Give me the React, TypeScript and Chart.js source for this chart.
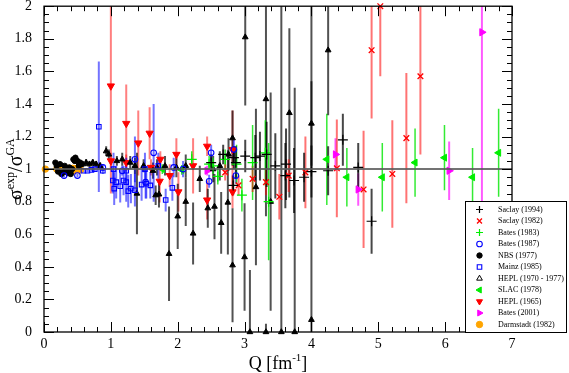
import React, { useEffect, useRef } from "react";
import { Chart, registerables } from "chart.js";
import { drawPoint } from "chart.js/helpers";

Chart.register(...registerables);

type Pt = [number, number, number]; // [Q, sigma ratio, error]

const saclay1994: Pt[] = [
  [2.50, 1.04, 0.05], [2.68, 1.09, 0.06], [2.83, 0.90, 0.06], [2.84, 1.07, 0.07], [2.87, 1.04, 0.10],
  [3.01, 1.08, 0.10], [3.16, 1.07, 0.14], [3.23, 1.08, 0.15], [3.33, 1.09, 0.20], [3.46, 1.02, 0.20],
  [3.61, 0.96, 0.20], [3.62, 1.03, 0.22], [3.74, 0.93, 0.20], [3.89, 0.95, 0.15], [4.00, 0.985, 0.16],
  [4.25, 0.99, 0.15], [4.47, 1.18, 0.16], [4.70, 1.01, 0.15], [4.90, 0.68, 0.20],
];
const saclay1982: Pt[] = [
  [2.71, 0.98, 0.05], [2.91, 0.90, 0.06], [3.12, 0.94, 0.08], [3.32, 0.92, 0.08], [3.52, 0.83, 0.14],
  [3.66, 0.96, 0.10], [3.91, 0.98, 0.22], [4.38, 1.005, 0.30], [4.78, 0.875, 0.36], [4.90, 1.73, 0.42],
  [5.03, 2.0, 0.43], [5.21, 0.97, 0.33], [5.42, 1.19, 0.40], [5.63, 1.57, 0.48],
];
const bates1983: Pt[] = [
  [2.21, 1.06, 0.05], [2.47, 1.03, 0.05], [2.53, 1.02, 0.05], [2.60, 0.955, 0.05], [2.71, 1.06, 0.06],
  [2.88, 1.03, 0.12], [2.96, 0.84, 0.10], [3.12, 1.04, 0.23], [3.31, 1.10, 0.20], [3.36, 0.80, 0.36],
];
const bates1987: Pt[] = [
  [0.30, 0.96, 0.01], [0.50, 0.96, 0.01], [0.88, 1.01, 0.02], [1.17, 0.99, 0.03], [1.36, 1.06, 0.14],
  [1.52, 0.92, 0.10], [1.64, 1.10, 0.30], [1.94, 1.01, 0.06], [2.08, 1.00, 0.05], [2.47, 0.925, 0.04],
  [2.50, 1.10, 0.05], [2.84, 1.12, 0.06], [2.87, 0.96, 0.05],
];
const nbs1977: Pt[] = [
  [0.17, 1.04, 0.01], [0.19, 1.02, 0.01], [0.21, 0.985, 0.01], [0.24, 1.03, 0.01], [0.26, 0.97, 0.01],
  [0.28, 0.98, 0.01], [0.31, 1.02, 0.01], [0.33, 0.99, 0.01], [0.36, 0.975, 0.01], [0.38, 1.01, 0.01],
  [0.40, 0.97, 0.01], [0.42, 1.00, 0.01], [0.44, 1.06, 0.015], [0.46, 1.05, 0.015], [0.47, 1.07, 0.015],
  [0.50, 1.05, 0.015], [0.52, 1.02, 0.015], [0.54, 1.04, 0.015], [0.56, 1.03, 0.015],
];
const mainz1985: Pt[] = [
  [0.59, 0.99, 0.01], [0.65, 0.99, 0.01], [0.71, 0.995, 0.01], [0.76, 1.00, 0.01], [0.82, 1.26, 0.40],
  [0.88, 0.99, 0.02], [1.03, 0.93, 0.08], [1.04, 1.00, 0.10], [1.05, 0.88, 0.10], [1.08, 0.92, 0.10],
  [1.14, 0.895, 0.10], [1.19, 0.93, 0.09], [1.23, 0.92, 0.12], [1.23, 0.99, 0.08], [1.26, 0.865, 0.10],
  [1.30, 0.88, 0.09], [1.36, 0.87, 0.10], [1.46, 0.905, 0.10], [1.51, 1.00, 0.10], [1.53, 0.91, 0.09],
  [1.59, 0.90, 0.08], [1.71, 1.02, 0.08], [1.82, 0.81, 0.07], [1.92, 0.885, 0.08],
];
const hepl7077: Pt[] = [
  [0.58, 1.03, 0.02], [0.63, 1.04, 0.02], [0.68, 1.03, 0.02], [0.73, 1.04, 0.02], [0.78, 1.03, 0.02],
  [0.84, 1.02, 0.02], [0.93, 1.11, 0.03], [0.97, 1.09, 0.03], [1.09, 1.05, 0.03], [1.17, 1.06, 0.04],
  [1.29, 1.04, 0.04], [1.36, 1.02, 0.05], [1.49, 1.02, 0.04], [1.63, 0.99, 0.05], [1.69, 1.01, 0.05],
  [1.81, 1.02, 0.06], [1.98, 1.01, 0.06], [2.12, 1.02, 0.07], [2.33, 0.94, 0.08], [2.53, 1.00, 0.08],
  [2.63, 1.02, 0.09], [2.76, 1.09, 0.10], [2.82, 1.19, 0.17],
  [1.39, 0.85, 0.25], [1.67, 0.84, 0.06], [1.72, 0.845, 0.08], [1.87, 0.48, 0.29], [2.00, 0.71, 0.20],
  [2.12, 0.80, 0.15], [2.23, 0.605, 0.19], [2.45, 0.76, 0.12], [2.55, 0.77, 0.20], [2.65, 0.67, 0.19],
  [2.75, 0.795, 0.32], [2.82, 0.41, 0.35], [3.00, 0.46, 0.33], [3.08, 0.0, 0.38], [3.17, 0.89, 0.48],
  [3.32, 0.0, 0.05], [3.39, 0.80, 0.67], [3.55, 0.0, 2.1], [3.75, 0.0, 1.5], [4.00, 0.075, 1.95],
  [3.01, 1.81, 0.42], [3.32, 1.43, 0.72], [3.67, 1.345, 0.52], [4.00, 1.28, 0.26], [4.25, 1.73, 0.40],
];
const slac1978: Pt[] = [
  [1.77, 1.00, 0.03], [2.06, 0.995, 0.03], [4.23, 1.06, 0.28], [4.53, 0.95, 0.18], [5.06, 0.95, 0.21],
  [5.55, 1.04, 0.21], [5.99, 1.07, 0.20], [6.41, 0.95, 0.18], [6.80, 1.10, 0.27],
];
const hepl1965: Pt[] = [
  [1.00, 1.51, 0.66], [1.00, 1.05, 0.05], [1.23, 1.28, 0.24], [1.23, 1.04, 0.05], [1.41, 1.16, 0.20],
  [1.58, 1.22, 0.16], [1.60, 1.01, 0.05], [1.73, 0.925, 0.13], [1.74, 1.06, 0.05], [1.88, 0.96, 0.07],
  [1.98, 1.09, 0.10], [2.01, 0.86, 0.12], [2.23, 1.02, 0.17], [2.44, 1.14, 0.06], [2.44, 0.81, 0.12],
  [2.82, 1.12, 0.24], [2.82, 0.86, 0.10],
];
const bates2001: Pt[] = [
  [2.44, 0.99, 0.03], [4.36, 1.09, 0.10], [4.70, 0.875, 0.10], [6.06, 0.99, 0.18], [6.55, 1.84, 1.04],
];
const darmstadt1982: Pt[] = [
  [0.02, 1.0, 0.01], [0.19, 1.0, 0.015], [0.215, 0.995, 0.015], [0.23, 1.005, 0.015], [0.255, 0.99, 0.015],
  [0.27, 1.0, 0.015], [0.29, 1.005, 0.015], [0.305, 0.995, 0.015], [0.33, 1.0, 0.015], [0.345, 0.99, 0.015],
  [0.37, 1.005, 0.015], [0.385, 1.0, 0.015], [0.41, 0.995, 0.015], [0.43, 1.005, 0.015], [0.445, 0.99, 0.015],
  [0.47, 1.0, 0.015], [0.49, 1.005, 0.015], [0.505, 0.995, 0.015], [0.53, 1.0, 0.015], [0.545, 0.995, 0.015],
];

const refLine = [[0, 1], [7, 1]];

const xTicks = [0, 1, 2, 3, 4, 5, 6, 7];
const xTickLabels = ["0", "1", "2", "3", "4", "5", "6", "7"];
const yTicks = [0, 0.2, 0.4, 0.6, 0.8, 1, 1.2, 1.4, 1.6, 1.8, 2];
const yTickLabels = ["0", "0.2", "0.4", "0.6", "0.8", "1", "1.2", "1.4", "1.6", "1.8", "2"];
const xMinorStep = 0.2;
const yMinorStep = 0.05;

const SERIF = "'Liberation Serif', 'Times New Roman', serif";

interface Style {
  label: string;
  data: Pt[];
  pointStyle: string;
  rotation: number;
  radius: number;
  color: string;
  fill: string;
  bw: number;
  errColor: string;
  errWidth: number;
  legendFill?: string;
}

const series: Style[] = [
  { label: "Saclay (1994)", data: saclay1994, pointStyle: "cross", rotation: 0, radius: 5, color: "#000", fill: "#000", bw: 1.2, errColor: "rgba(0,0,0,0.72)", errWidth: 2 },
  { label: "Saclay (1982)", data: saclay1982, pointStyle: "crossRot", rotation: 0, radius: 4, color: "#ff0000", fill: "#ff0000", bw: 1.3, errColor: "rgba(255,0,0,0.55)", errWidth: 2 },
  { label: "Bates (1983)", data: bates1983, pointStyle: "cross", rotation: 0, radius: 5, color: "#00ee00", fill: "#00ee00", bw: 1.2, errColor: "rgba(0,230,0,0.8)", errWidth: 1.5 },
  { label: "Bates (1987)", data: bates1987, pointStyle: "circle", rotation: 0, radius: 2.8, color: "#0000ff", fill: "rgba(0,0,0,0)", bw: 1.1, errColor: "rgba(0,0,255,0.55)", errWidth: 2 },
  { label: "NBS (1977)", data: nbs1977, pointStyle: "circle", rotation: 0, radius: 2.7, color: "#000", fill: "#000", bw: 1, errColor: "#000", errWidth: 1 },
  { label: "Mainz (1985)", data: mainz1985, pointStyle: "rect", rotation: 0, radius: 3.2, color: "#0000ff", fill: "rgba(0,0,0,0)", bw: 1.1, errColor: "rgba(0,0,255,0.55)", errWidth: 2 },
  { label: "HEPL (1970 - 1977)", data: hepl7077, pointStyle: "triangle", rotation: 0, radius: 3.3, color: "#000", fill: "#000", bw: 1, errColor: "rgba(0,0,0,0.68)", errWidth: 2, legendFill: "rgba(0,0,0,0)" },
  { label: "SLAC (1978)", data: slac1978, pointStyle: "triangle", rotation: 270, radius: 4, color: "#00ee00", fill: "#00ee00", bw: 1, errColor: "rgba(0,230,0,0.8)", errWidth: 1.5 },
  { label: "HEPL (1965)", data: hepl1965, pointStyle: "triangle", rotation: 180, radius: 4.2, color: "#ff0000", fill: "#ff0000", bw: 1, errColor: "rgba(255,0,0,0.5)", errWidth: 2 },
  { label: "Bates (2001)", data: bates2001, pointStyle: "triangle", rotation: 90, radius: 4.2, color: "#ff00ff", fill: "#ff00ff", bw: 1, errColor: "rgba(255,0,255,0.65)", errWidth: 2 },
  { label: "Darmstadt (1982)", data: darmstadt1982, pointStyle: "circle", rotation: 0, radius: 3.2, color: "#ffa500", fill: "#ffa500", bw: 1, errColor: "#ffa500", errWidth: 1 },
];

const errorBarPlugin = {
  id: "errorBars",
  beforeDatasetsDraw(chart: any) {
    const { ctx, chartArea: a, scales } = chart;
    const x = scales.x, y = scales.y;
    ctx.save();
    ctx.beginPath();
    ctx.rect(a.left, a.top, a.right - a.left, a.bottom - a.top);
    ctx.clip();
    const dss = chart.data.datasets;
    for (let d = dss.length - 1; d >= 0; d--) {
      const ds = dss[d];
      if (!ds.errs) continue;
      ctx.strokeStyle = ds.errColor;
      ctx.lineWidth = ds.errWidth;
      ds.errs.forEach((e: number, i: number) => {
        const p = ds.data[i];
        const px = x.getPixelForValue(p.x);
        ctx.beginPath();
        ctx.moveTo(px, y.getPixelForValue(p.y - e));
        ctx.lineTo(px, y.getPixelForValue(p.y + e));
        ctx.stroke();
      });
    }
    ctx.restore();
  },
};

function drawRich(ctx: CanvasRenderingContext2D, parts: { t: string; size: number; dy: number }[], cx: number, baseY: number) {
  let total = 0;
  parts.forEach((p) => {
    ctx.font = `${p.size}px ${SERIF}`;
    total += ctx.measureText(p.t).width;
  });
  let xx = cx - total / 2;
  parts.forEach((p) => {
    ctx.font = `${p.size}px ${SERIF}`;
    ctx.fillText(p.t, xx, baseY + p.dy);
    xx += ctx.measureText(p.t).width;
  });
}

const framePlugin = {
  id: "frame",
  afterDraw(chart: any) {
    const { ctx, chartArea: a, scales } = chart;
    const x = scales.x, y = scales.y;
    ctx.save();
    ctx.strokeStyle = "#000";
    ctx.lineWidth = 1;
    const line = (x1: number, y1: number, x2: number, y2: number) => {
      ctx.beginPath();
      ctx.moveTo(x1, y1);
      ctx.lineTo(x2, y2);
      ctx.stroke();
    };
    const nx = Math.round((x.max - x.min) / xMinorStep);
    for (let i = 0; i <= nx; i++) {
      const v = x.min + i * xMinorStep;
      const major = xTicks.some((t) => Math.abs(t - v) < 1e-6);
      const L = major ? 10 : 5;
      const px = Math.round(x.getPixelForValue(v)) + 0.5;
      line(px, a.bottom, px, a.bottom - L);
      line(px, a.top, px, a.top + L);
    }
    const ny = Math.round((y.max - y.min) / yMinorStep);
    for (let i = 0; i <= ny; i++) {
      const v = y.min + i * yMinorStep;
      const major = yTicks.some((t) => Math.abs(t - v) < 1e-6);
      const L = major ? 10 : 5;
      const py = Math.round(y.getPixelForValue(v)) + 0.5;
      line(a.left, py, a.left + L, py);
      line(a.right, py, a.right - L, py);
    }
    ctx.lineWidth = 1.3;
    ctx.strokeRect(a.left, a.top, a.right - a.left, a.bottom - a.top);

    ctx.fillStyle = "#000";
    ctx.textBaseline = "alphabetic";
    ctx.textAlign = "left";
    drawRich(ctx, [
      { t: "Q [fm", size: 18, dy: 0 },
      { t: "-1", size: 11, dy: -8 },
      { t: "]", size: 18, dy: 0 },
    ], (a.left + a.right) / 2, 369);

    ctx.save();
    ctx.translate(22, (a.top + a.bottom) / 2);
    ctx.rotate(-Math.PI / 2);
    drawRich(ctx, [
      { t: "σ", size: 20, dy: 0 },
      { t: "exp", size: 12, dy: -8 },
      { t: "/σ", size: 20, dy: 0 },
      { t: "GA", size: 12, dy: -8 },
    ], 0, 0);
    ctx.restore();

    const bx = 465.5, by = 201.5, bw = 101, bh = 131;
    ctx.fillStyle = "#fff";
    ctx.fillRect(bx, by, bw, bh);
    ctx.strokeStyle = "#000";
    ctx.lineWidth = 1;
    ctx.strokeRect(bx, by, bw, bh);
    ctx.font = `8px ${SERIF}`;
    ctx.textBaseline = "middle";
    series.forEach((s, i) => {
      const yy = 209.5 + i * 11.5;
      ctx.fillStyle = s.legendFill ?? s.fill;
      ctx.strokeStyle = s.color;
      ctx.lineWidth = s.bw;
      drawPoint(ctx, { pointStyle: s.pointStyle as any, rotation: s.rotation, radius: Math.min(s.radius, 3.5), borderWidth: s.bw }, 479.5, yy);
      ctx.fillStyle = "#000";
      ctx.fillText(s.label, 498, yy);
    });
    ctx.restore();
  },
};

export default function App() {
  const ref = useRef<HTMLCanvasElement>(null);
  useEffect(() => {
    if (!ref.current) return;
    const datasets: any[] = [
      {
        type: "line",
        label: "ref",
        data: refLine.map(([qx, qy]) => ({ x: qx, y: qy })),
        borderColor: "rgba(90,90,90,0.85)",
        borderWidth: 2,
        pointRadius: 0,
        showLine: true,
        order: -1,
      },
      ...series.map((s) => ({
        type: "scatter",
        label: s.label,
        data: s.data.map(([qx, v]) => ({ x: qx, y: v })),
        errs: s.data.map((p) => p[2]),
        errColor: s.errColor,
        errWidth: s.errWidth,
        pointStyle: s.pointStyle,
        rotation: s.rotation,
        pointRadius: s.radius,
        pointBackgroundColor: s.fill,
        pointBorderColor: s.color,
        pointBorderWidth: s.bw,
        showLine: false,
        clip: false,
      })),
    ];
    const chart = new Chart(ref.current, {
      type: "scatter",
      data: { datasets },
      options: {
        responsive: false,
        animation: false,
        events: [],
        layout: { padding: { top: 5, right: 57, left: 0, bottom: 0 } },
        plugins: { legend: { display: false }, tooltip: { enabled: false } },
        scales: {
          x: {
            type: "linear",
            min: 0,
            max: 7,
            grid: { display: false },
            border: { display: false },
            ticks: {
              font: { family: SERIF, size: 14 },
              color: "#000",
              padding: -4,
              maxRotation: 0,
              autoSkip: false,
              callback: (_v: any, i: number) => xTickLabels[i],
            },
            afterBuildTicks: (s: any) => {
              s.ticks = xTicks.map((v) => ({ value: v }));
            },
            afterFit: (s: any) => {
              s.height = 41;
              s.paddingLeft = 0;
              s.paddingRight = 0;
            },
          },
          y: {
            type: "linear",
            min: 0,
            max: 2,
            grid: { display: false },
            border: { display: false },
            ticks: {
              font: { family: SERIF, size: 14 },
              color: "#000",
              padding: 4,
              autoSkip: false,
              callback: (_v: any, i: number) => yTickLabels[i],
            },
            afterBuildTicks: (s: any) => {
              s.ticks = yTicks.map((v) => ({ value: v }));
            },
            afterFit: (s: any) => {
              s.width = 44;
              s.paddingTop = 0;
              s.paddingBottom = 0;
            },
          },
        },
      } as any,
      plugins: [errorBarPlugin, framePlugin],
    });
    return () => chart.destroy();
  }, []);
  return (
    <div style={{ position: "fixed", left: 0, top: 0, width: 569, height: 373, background: "#fff" }}>
      <canvas ref={ref} width={569} height={373} style={{ display: "block" }} />
    </div>
  );
}
